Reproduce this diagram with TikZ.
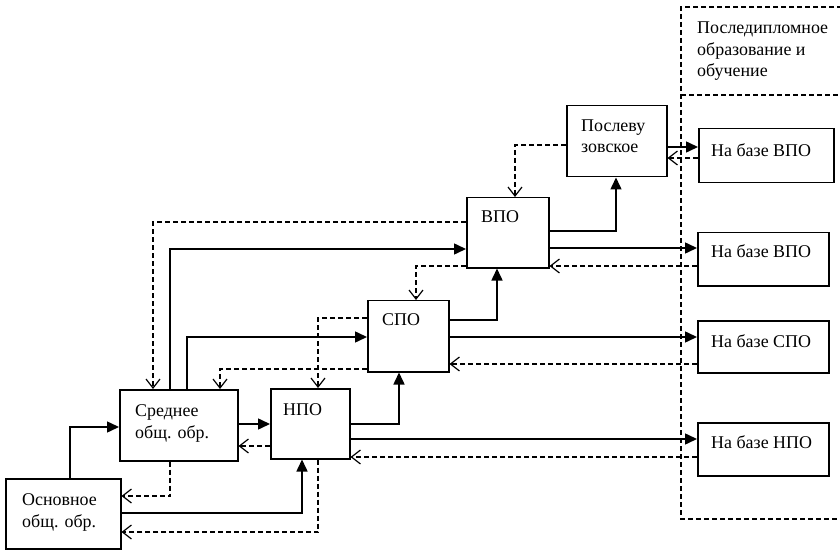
\documentclass[tikz,border=0pt]{standalone}
\usepackage{fontspec}
\setmainfont{Liberation Serif}
\usetikzlibrary{arrows.meta}
\tikzset{
  box/.style={draw, line width=1.5bp, inner sep=0pt, anchor=north west},
  lbl/.style={inner sep=0pt, anchor=base west, align=left, font=\fontsize{18}{22}\selectfont},
  sol/.style={line width=1.5bp, -{Triangle[length=12bp,width=11bp]}},
  dsh/.style={line width=1.4bp, dash pattern=on 5bp off 3bp, -{Straight Barb[length=9bp,width=14bp,line width=1.2bp]}},
  region/.style={line width=1.4bp, dash pattern=on 5bp off 3bp}
}
\begin{document}
\begin{tikzpicture}[x=1bp,y=-1bp]
\useasboundingbox (0,0) rectangle (840,550);
% boxes
\node[box, minimum width=115bp, minimum height=70bp] (osn) at (5,478) {};
\node[box, minimum width=118bp, minimum height=71bp] (sred) at (119,389) {};
\node[box, minimum width=79bp, minimum height=70bp] (npo) at (270,388) {};
\node[box, minimum width=81bp, minimum height=71bp] (spo) at (367,300) {};
\node[box, minimum width=82bp, minimum height=70bp] (vpo) at (466,197) {};
\node[box, minimum width=100bp, minimum height=71bp] (posl) at (566,105) {};
\node[box, minimum width=135bp, minimum height=54bp] (b1) at (698,128) {};
\node[box, minimum width=131bp, minimum height=53bp] (b2) at (697,232) {};
\node[box, minimum width=131bp, minimum height=52bp] (b3) at (697,320) {};
\node[box, minimum width=131bp, minimum height=53bp] (b4) at (697,422) {};
% labels (anchor = baseline of last line)
\node[lbl] (tosn) at (22,527) {Основное\\общ. обр.};
\node[lbl] (tsred) at (135,438) {Среднее\\общ. обр.};
\node[lbl] (tnpo) at (283,415) {НПО};
\node[lbl] (tspo) at (382,326) {СПО};
\node[lbl] (tvpo) at (481,223) {ВПО};
\node[lbl] (tposl) at (581,153) {Послеву\\зовское};
\node[lbl] (tb1) at (711,157) {На базе ВПО};
\node[lbl] (tb2) at (711,258) {На базе ВПО};
\node[lbl] (tb3) at (711,347) {На базе СПО};
\node[lbl] (tb4) at (711,448) {На базе НПО};
\node[lbl] (treg) at (697,77) {Последипломное\\образование и\\обучение};
% region
\coordinate (r1) at (842,7);
\coordinate (r2) at (681,7);
\coordinate (r3) at (681,519);
\coordinate (r4) at (842,519);
\coordinate (r5) at (681,95);
\coordinate (r6) at (842,95);
\draw[region] (r1) -- (r2) -- (r3) -- (r4);
\draw[region] (r5) -- (r6);
% connectors
\draw[sol] (70,0 |- osn.north) |- (sred.west |- 0,427);
\draw[sol] (osn.east |- 0,513) -| (302,0 |- npo.south);
\draw[dsh] (318,0 |- npo.south) |- (osn.east |- 0,532);
\draw[dsh] (170,0 |- sred.south) |- (osn.east |- 0,496);
\draw[sol] (sred.east |- 0,424) -- (npo.west |- 0,424);
\draw[dsh] (npo.west |- 0,446) -- (sred.east |- 0,446);
\draw[dsh] (vpo.west |- 0,222) -| (153,0 |- sred.north);
\draw[sol] (170,0 |- sred.north) |- (vpo.west |- 0,249);
\draw[sol] (187,0 |- sred.north) |- (spo.west |- 0,337);
\draw[dsh] (spo.west |- 0,369) -| (220,0 |- sred.north);
\draw[dsh] (spo.west |- 0,318) -| (318,0 |- npo.north);
\draw[sol] (npo.east |- 0,424) -| (399,0 |- spo.south);
\draw[sol] (npo.east |- 0,439) -- (b4.west |- 0,439);
\draw[dsh] (b4.west |- 0,457) -- (npo.east |- 0,457);
\draw[sol] (spo.east |- 0,320) -| (497,0 |- vpo.south);
\draw[dsh] (vpo.west |- 0,266) -| (416,0 |- spo.north);
\draw[sol] (spo.east |- 0,337) -- (b3.west |- 0,337);
\draw[dsh] (b3.west |- 0,364) -- (spo.east |- 0,364);
\draw[sol] (vpo.east |- 0,231) -| (616,0 |- posl.south);
\draw[dsh] (posl.west |- 0,145) -| (515,0 |- vpo.north);
\draw[sol] (vpo.east |- 0,248) -- (b2.west |- 0,248);
\draw[dsh] (b2.west |- 0,266) -- (vpo.east |- 0,266);
\draw[sol] (posl.east |- 0,147) -- (b1.west |- 0,147);
\draw[dsh] (b1.west |- 0,158) -- (posl.east |- 0,158);
\end{tikzpicture}
\end{document}
